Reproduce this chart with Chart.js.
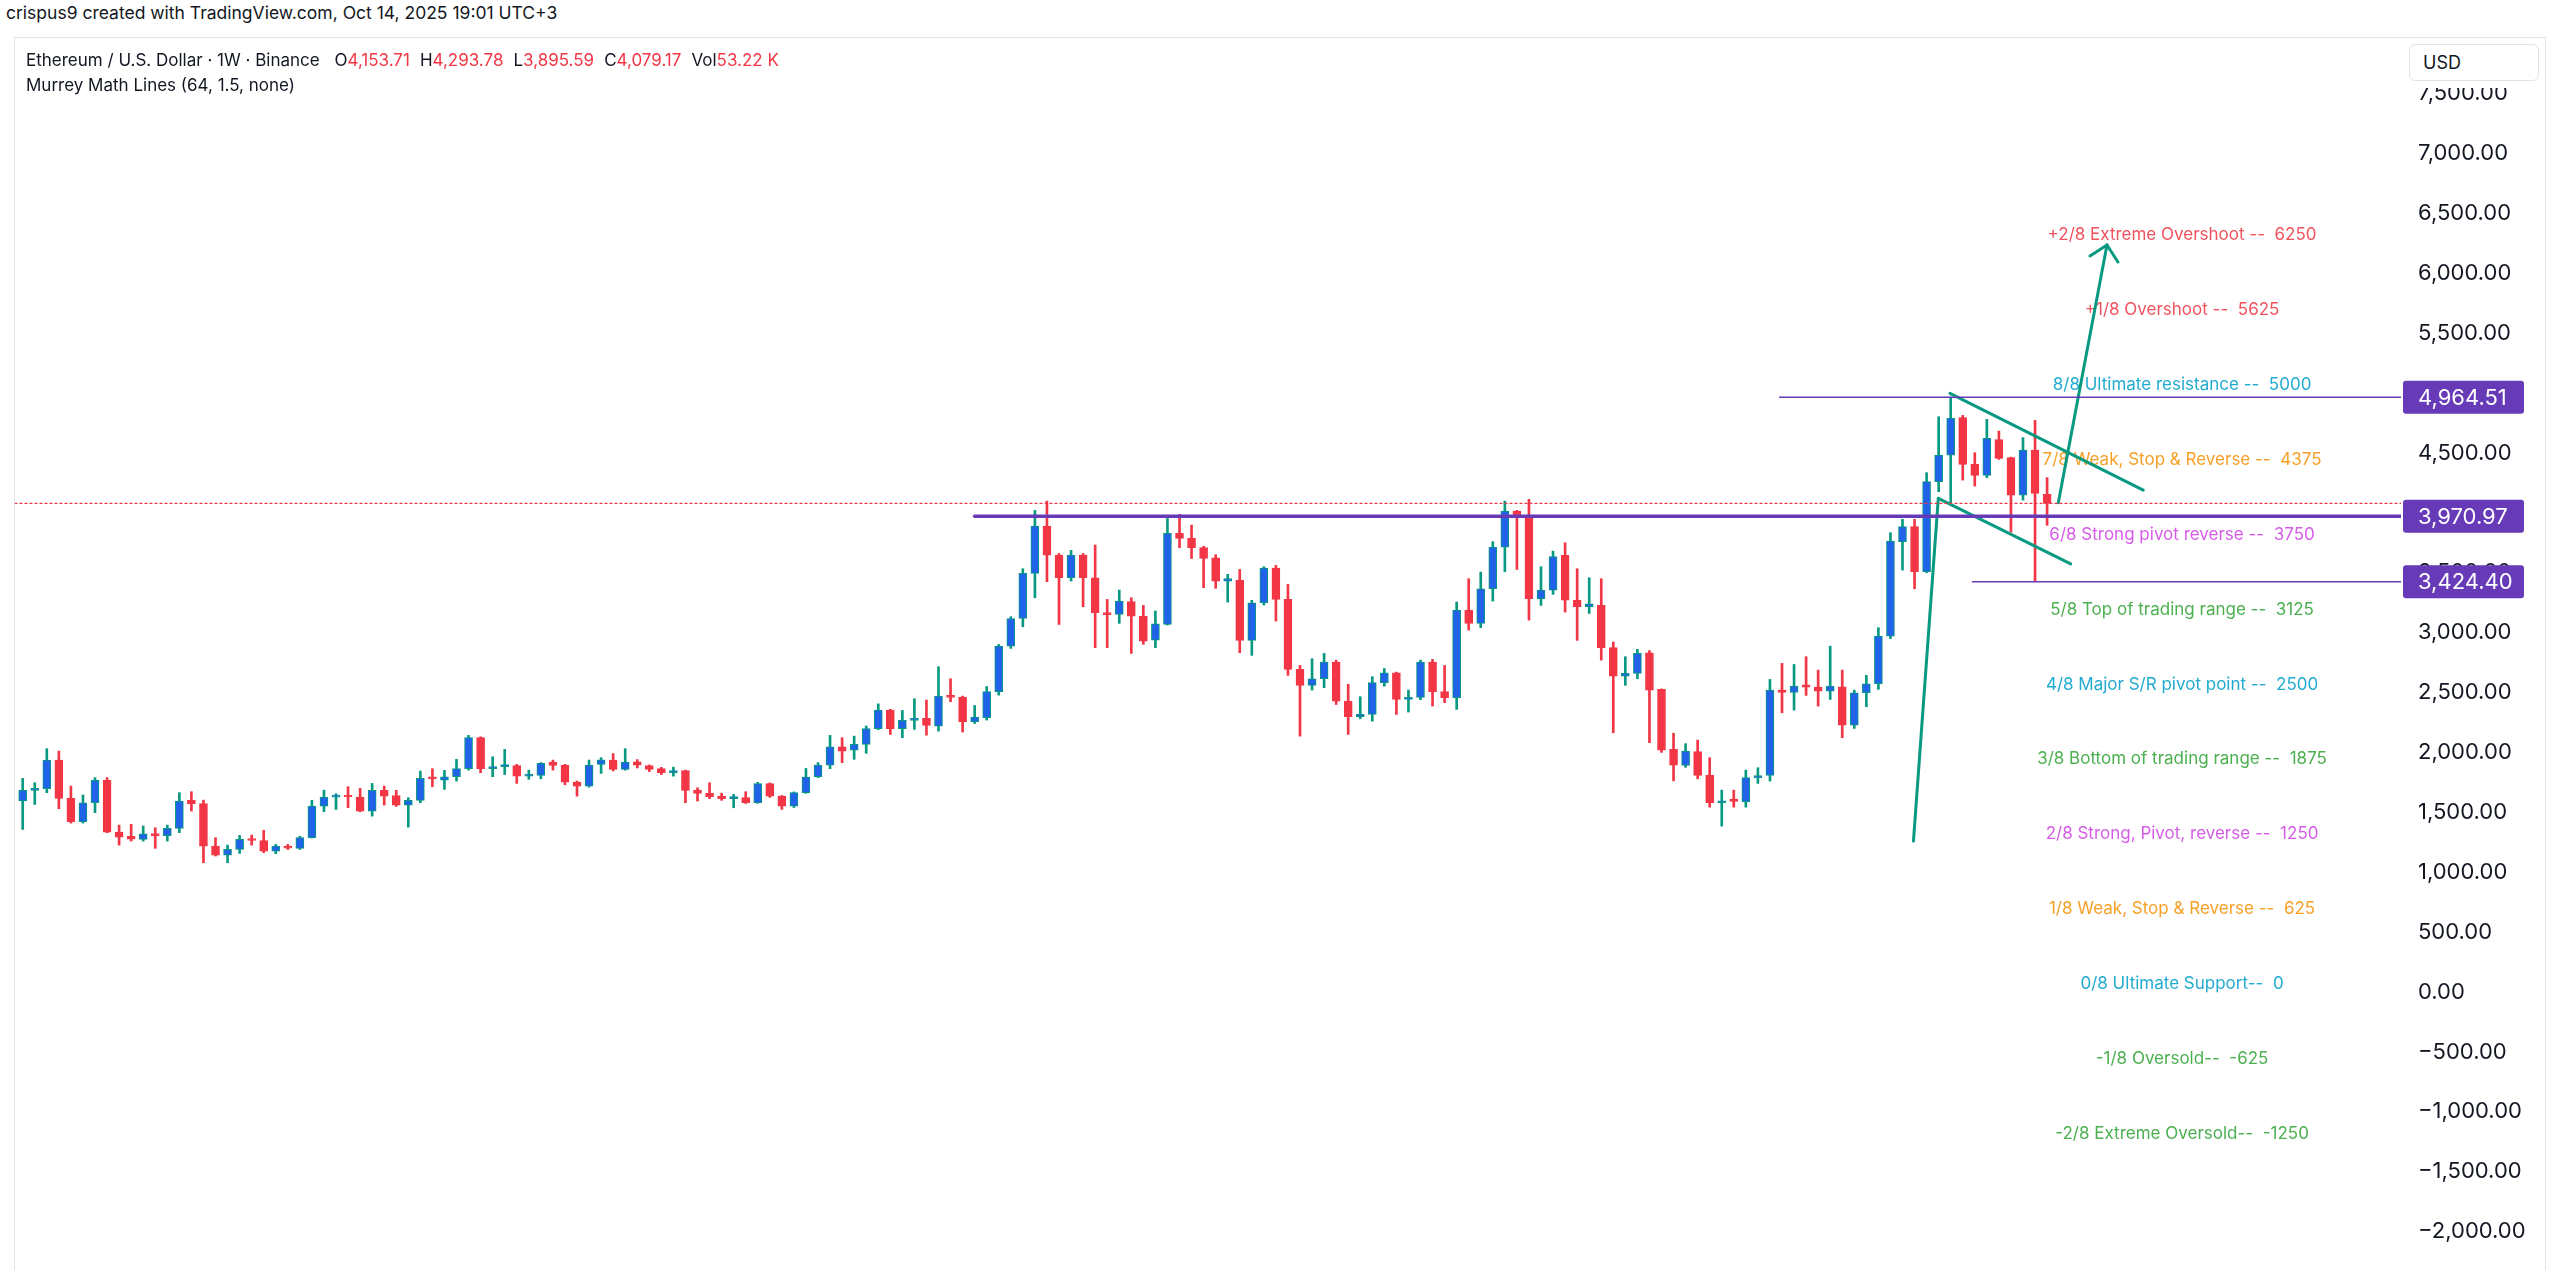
<!DOCTYPE html>
<html>
<head>
<meta charset="utf-8">
<title>Ethereum / U.S. Dollar 1W - Murrey Math Lines</title>
<script src="https://cdn.jsdelivr.net/npm/chart.js@4.4.1/dist/chart.umd.min.js"></script>
<style>
  html, body { margin: 0; padding: 0; background: #fff; }
  body { width: 2560px; height: 1270px; position: relative; overflow: hidden;
         font-family: Inter, 'Noto Sans', sans-serif; color: #131722; }
  #credit { position: absolute; left: 6px; top: 2px; font-size: 17.5px; line-height: 22px; }
  #frame { position: absolute; left: 14px; top: 37px; width: 2530px; height: 1250px;
           border: 1px solid #e0e3eb; }
  #chartBox { position: absolute; left: 15px; top: 38px; width: 2530px; height: 1232px; }
  .legend { position: absolute; left: 26px; font-size: 17px; line-height: 22px; white-space: pre; }
  #legend1 { top: 49px; }
  #legend2 { top: 74px; }
  .val { color: #f23645; }
  .gap { margin-left: 10px; }
  #usdPad { position: absolute; left: 2405px; top: 40px; width: 138px; height: 48px; background: #fff; }
  #usd { position: absolute; left: 2409px; top: 44px; width: 130px; height: 37px; box-sizing: border-box;
         border: 1px solid #e0e3eb; border-radius: 6px; background: #fff; font-size: 18px;
         line-height: 35px; padding-left: 13px; }
</style>
</head>
<body>
<div id="credit">crispus9 created with TradingView.com, Oct 14, 2025 19:01 UTC+3</div>
<div id="frame"></div>
<div id="chartBox"><canvas id="ethChart" width="2530" height="1232"></canvas></div>
<div class="legend" id="legend1">Ethereum / U.S. Dollar · 1W · Binance <span class="gap">O</span><span class="val">4,153.71</span><span class="gap">H</span><span class="val">4,293.78</span><span class="gap">L</span><span class="val">3,895.59</span><span class="gap">C</span><span class="val">4,079.17</span><span class="gap">Vol</span><span class="val">53.22 K</span></div>
<div class="legend" id="legend2">Murrey Math Lines (64, 1.5, none)</div>
<div id="usdPad"></div>
<div id="usd">USD</div>

<script>
// weekly candles, ETHUSD Binance (week start)
const weeks = [
  '2022-07-18','2022-07-25','2022-08-01','2022-08-08','2022-08-15','2022-08-22','2022-08-29','2022-09-05','2022-09-12','2022-09-19','2022-09-26',
  '2022-10-03','2022-10-10','2022-10-17','2022-10-24','2022-10-31','2022-11-07','2022-11-14','2022-11-21','2022-11-28','2022-12-05',
  '2022-12-12','2022-12-19','2022-12-26','2023-01-02','2023-01-09','2023-01-16','2023-01-23','2023-01-30','2023-02-06','2023-02-13',
  '2023-02-20','2023-02-27','2023-03-06','2023-03-13','2023-03-20','2023-03-27','2023-04-03','2023-04-10','2023-04-17','2023-04-24',
  '2023-05-01','2023-05-08','2023-05-15','2023-05-22','2023-05-29','2023-06-05','2023-06-12','2023-06-19','2023-06-26','2023-07-03',
  '2023-07-10','2023-07-17','2023-07-24','2023-07-31','2023-08-07','2023-08-14','2023-08-21','2023-08-28','2023-09-04','2023-09-11',
  '2023-09-18','2023-09-25','2023-10-02','2023-10-09','2023-10-16','2023-10-23','2023-10-30','2023-11-06','2023-11-13','2023-11-20',
  '2023-11-27','2023-12-04','2023-12-11','2023-12-18','2023-12-25','2024-01-01','2024-01-08','2024-01-15','2024-01-22','2024-01-29',
  '2024-02-05','2024-02-12','2024-02-19','2024-02-26','2024-03-04','2024-03-11','2024-03-18','2024-03-25','2024-04-01','2024-04-08',
  '2024-04-15','2024-04-22','2024-04-29','2024-05-06','2024-05-13','2024-05-20','2024-05-27','2024-06-03','2024-06-10','2024-06-17',
  '2024-06-24','2024-07-01','2024-07-08','2024-07-15','2024-07-22','2024-07-29','2024-08-05','2024-08-12','2024-08-19','2024-08-26',
  '2024-09-02','2024-09-09','2024-09-16','2024-09-23','2024-09-30','2024-10-07','2024-10-14','2024-10-21','2024-10-28','2024-11-04',
  '2024-11-11','2024-11-18','2024-11-25','2024-12-02','2024-12-09','2024-12-16','2024-12-23','2024-12-30','2025-01-06','2025-01-13',
  '2025-01-20','2025-01-27','2025-02-03','2025-02-10','2025-02-17','2025-02-24','2025-03-03','2025-03-10','2025-03-17','2025-03-24',
  '2025-03-31','2025-04-07','2025-04-14','2025-04-21','2025-04-28','2025-05-05','2025-05-12','2025-05-19','2025-05-26','2025-06-02',
  '2025-06-09','2025-06-16','2025-06-23','2025-06-30','2025-07-07','2025-07-14','2025-07-21','2025-07-28','2025-08-04','2025-08-11',
  '2025-08-18','2025-08-25','2025-09-01','2025-09-08','2025-09-15','2025-09-22','2025-09-29','2025-10-06','2025-10-13'
]

const opens = [
  1340,
  1595, 1683, 1697, 1935, 1616, 1421, 1580, 1766, 1335, 1299,
  1274, 1322, 1306, 1366, 1599, 1572, 1218, 1142, 1190, 1274,
  1265, 1176, 1218, 1199, 1288, 1551, 1627, 1640, 1628, 1510,
  1683, 1640, 1560, 1599, 1790, 1769, 1797, 1864, 2123, 1864,
  1881, 1890, 1802, 1808, 1919, 1894, 1752, 1719, 1900, 1936,
  1858, 1922, 1891, 1864, 1830, 1848, 1685, 1658, 1635, 1614,
  1622, 1580, 1739, 1635, 1552, 1664, 1797, 1894, 2047, 2019,
  2067, 2198, 2353, 2198, 2267, 2284, 2220, 2470, 2462, 2256,
  2290, 2507, 2887, 3118, 3494, 3889, 3647, 3458, 3647, 3458,
  3166, 3152, 3258, 3138, 2937, 3068, 3828, 3786, 3709, 3625,
  3430, 3438, 2935, 3249, 3538, 3277, 2693, 2560, 2615, 2754,
  2428, 2298, 2317, 2582, 2665, 2442, 2460, 2754, 2507, 2457,
  3188, 3077, 3366, 3714, 4014, 3978, 3283, 3355, 3644, 3271,
  3216, 3227, 2874, 2637, 2660, 2832, 2526, 2025, 1891, 2006,
  1808, 1580, 1610, 1588, 1789, 1808, 2520, 2500, 2565, 2545,
  2512, 2548, 2228, 2498, 2573, 2971, 3759, 3884, 3508, 4260,
  4482, 4794, 4404, 4312, 4612, 4460, 4148, 4523, 4153.71
]

const highs = [
  1660,
  1783, 1747, 2031, 2011, 1719, 1644, 1789, 1790, 1393, 1400,
  1385, 1371, 1393, 1664, 1672, 1602, 1288, 1226, 1307, 1310,
  1349, 1232, 1232, 1300, 1600, 1685, 1655, 1714, 1700, 1741,
  1719, 1683, 1622, 1844, 1864, 1850, 1942, 2142, 2130, 1964,
  2025, 1900, 1852, 1915, 1936, 1900, 1761, 1936, 1956, 1990,
  2031, 1940, 1895, 1875, 1877, 1852, 1705, 1747, 1660, 1649,
  1672, 1750, 1745, 1640, 1670, 1866, 1915, 2142, 2123, 2136,
  2220, 2405, 2360, 2350, 2448, 2437, 2715, 2615, 2470, 2392,
  2550, 2901, 3133, 3533, 4020, 4098, 3660, 3686, 3660, 3731,
  3277, 3355, 3291, 3227, 3180, 3953, 3987, 3897, 3720, 3650,
  3486, 3527, 3270, 3550, 3561, 3402, 2726, 2782, 2826, 2770,
  2568, 2465, 2632, 2700, 2670, 2520, 2770, 2776, 2726, 3255,
  3450, 3505, 3759, 4098, 4020, 4112, 3550, 3680, 3750, 3533,
  3458, 3450, 2921, 2799, 2860, 2850, 2530, 2160, 2073, 2103,
  1956, 1685, 1685, 1852, 1872, 2609, 2743, 2734, 2799, 2687,
  2887, 2687, 2520, 2643, 3041, 3834, 3945, 3945, 4335, 4802,
  4964.51, 4813, 4502, 4780, 4682, 4465, 4627, 4771, 4293.78
]

const lows = [
  1330,
  1357, 1566, 1664, 1530, 1410, 1410, 1497, 1330, 1226, 1260,
  1260, 1199, 1260, 1330, 1510, 1079, 1135, 1079, 1157, 1226,
  1163, 1154, 1190, 1190, 1285, 1505, 1524, 1538, 1505, 1468,
  1560, 1550, 1376, 1580, 1714, 1691, 1761, 1852, 1830, 1797,
  1816, 1741, 1775, 1780, 1852, 1730, 1635, 1710, 1825, 1845,
  1852, 1870, 1840, 1815, 1802, 1580, 1594, 1614, 1600, 1538,
  1574, 1575, 1625, 1524, 1540, 1658, 1790, 1864, 1914, 1942,
  1992, 2190, 2150, 2123, 2192, 2144, 2178, 2423, 2170, 2242,
  2270, 2478, 2868, 3049, 3291, 3425, 3068, 3431, 3216, 2874,
  2874, 3077, 2826, 2902, 2874, 3063, 3709, 3619, 3375, 3370,
  3255, 2832, 2810, 3230, 3096, 2643, 2136, 2520, 2540, 2400,
  2150, 2281, 2261, 2553, 2317, 2337, 2440, 2387, 2415, 2359,
  3021, 3041, 3263, 3508, 3527, 3104, 3227, 3320, 3171, 2935,
  3160, 2770, 2164, 2560, 2615, 2081, 2000, 1763, 1875, 1780,
  1543, 1385, 1543, 1543, 1741, 1761, 2331, 2353, 2476, 2386,
  2442, 2123, 2200, 2381, 2526, 2950, 3522, 3366, 3500, 4176,
  4084, 4273, 4223, 4293, 4446, 3839, 4106, 3424.40, 3895.59
]

const closes = [
  1595,
  1683, 1697, 1935, 1616, 1421, 1580, 1766, 1335, 1293, 1276,
  1321, 1306, 1366, 1594, 1572, 1218, 1142, 1190, 1274, 1265,
  1176, 1218, 1200, 1288, 1551, 1627, 1640, 1628, 1510, 1683,
  1635, 1560, 1599, 1783, 1780, 1797, 1864, 2123, 1864, 1881,
  1890, 1802, 1816, 1908, 1891, 1752, 1719, 1894, 1939, 1858,
  1919, 1894, 1858, 1830, 1848, 1683, 1658, 1630, 1614, 1632,
  1580, 1739, 1635, 1552, 1664, 1794, 1894, 2047, 2011, 2067,
  2198, 2353, 2198, 2267, 2280, 2225, 2470, 2460, 2256, 2295,
  2507, 2887, 3118, 3494, 3889, 3647, 3458, 3647, 3458, 3166,
  3150, 3263, 3138, 2929, 3074, 3828, 3786, 3709, 3619, 3430,
  3450, 2935, 3249, 3538, 3277, 2693, 2560, 2615, 2754, 2428,
  2298, 2317, 2582, 2665, 2442, 2460, 2754, 2507, 2457, 3188,
  3077, 3366, 3714, 4014, 3959, 3283, 3355, 3634, 3271, 3216,
  3240, 2874, 2637, 2660, 2826, 2520, 2019, 1893, 2011, 1808,
  1580, 1594, 1590, 1789, 1805, 2520, 2500, 2553, 2545, 2512,
  2553, 2228, 2498, 2573, 2971, 3764, 3884, 3508, 4260, 4482,
  4788, 4404, 4312, 4621, 4454, 4148, 4523, 4162, 4079.17
]

// price axis labels
const yTicks = [-2000, -1500, -1000, -500, 0, 500, 1000, 1500, 2000, 2500, 3000, 3500, 4000, 4500, 5000, 5500, 6000, 6500, 7000, 7500]

// Murrey Math levels and their texts
const murreyLevels = [6250, 5625, 5000, 4375, 3750, 3125, 2500, 1875, 1250, 625, 0, -625, -1250]
const murreyTexts = [
  '+2/8 Extreme Overshoot --  6250',
  '+1/8 Overshoot --  5625',
  '8/8 Ultimate resistance --  5000',
  '7/8 Weak, Stop & Reverse --  4375',
  '6/8 Strong pivot reverse --  3750',
  '5/8 Top of trading range --  3125',
  '4/8 Major S/R pivot point --  2500',
  '3/8 Bottom of trading range --  1875',
  '2/8 Strong, Pivot, reverse --  1250',
  '1/8 Weak, Stop & Reverse --  625',
  '0/8 Ultimate Support--  0',
  '-1/8 Oversold--  -625',
  '-2/8 Extreme Oversold--  -1250'
]

// price levels marked with a tag on the axis, and the week index where each line starts
const tagPrices = [4964.51, 3970.97, 3424.40]
const tagStarts = [146.8, 80.0, 162.8]
const lastClose = 4079.17

// hand drawn flag and arrow, anchored as [week index, price]
const flagUpper = [[160.94, 4997], [176.98, 4190]]
const flagLower = [[159.97, 4121], [170.96, 3573]]
const flagPole  = [[157.91, 1260], [159.97, 4121]]
const arrowLine = [[169.93, 4084], [173.97, 6235]]
const arrowHead = [[172.56, 6144], [173.97, 6235], [174.88, 6093]]

// ----- look -----
const X_MIN = 0.36
const X_MAX = 198.37
const Y_MIN = -2320.5
const Y_MAX = 7963.3
const MURREY_X = 180.2
const UP_BODY = '#2163e8'
const UP_WICK = '#089981'
const DOWN = '#f23645'
const PURPLE = '#673ab7'
const TEAL = '#089981'
const murreyColors = [
  '#f0525e', '#f0525e', '#22abd0', '#f7a028', '#d65ce8', '#4caf50', '#22abd0',
  '#4caf50', '#d65ce8', '#f7a028', '#22abd0', '#4caf50', '#4caf50'
]

const fmtPrice = (v) => {
  const s = Math.abs(v).toLocaleString('en-US', { minimumFractionDigits: 2, maximumFractionDigits: 2 })
  return (v < 0 ? '\u2212' : '') + s
}

const isUp = opens.map((o, k) => closes[k] >= o)
const toPoints = (pairs) => pairs.map(p => ({ x: p[0], y: p[1] }))

const lineSet = (points, color, width, dash) => ({
  type: 'line',
  data: points,
  borderColor: color,
  borderWidth: width,
  borderDash: dash || [],
  borderCapStyle: 'round',
  pointRadius: 0,
  pointHoverRadius: 0,
  fill: false,
  tension: 0,
  order: 0
})

// Murrey texts go under the drawings
const murreyLabelPlugin = {
  id: 'murreyLabels',
  beforeDatasetsDraw(chart) {
    const { ctx, scales: { x, y } } = chart
    ctx.save()
    ctx.font = '17px Inter'
    ctx.textAlign = 'center'
    ctx.textBaseline = 'alphabetic'
    murreyLevels.forEach((level, n) => {
      ctx.fillStyle = murreyColors[n]
      ctx.fillText(murreyTexts[n], x.getPixelForValue(MURREY_X), y.getPixelForValue(level) - 3)
    })
    ctx.restore()
  }
}

// purple price tags on the right axis
const priceTagPlugin = {
  id: 'priceTags',
  afterDraw(chart) {
    const { ctx, chartArea, scales: { y } } = chart
    ctx.save()
    ctx.font = '22px Inter'
    ctx.textAlign = 'left'
    ctx.textBaseline = 'middle'
    tagPrices.forEach(p => {
      const py = y.getPixelForValue(p)
      ctx.fillStyle = PURPLE
      ctx.beginPath()
      ctx.roundRect(chartArea.right + 2, py - 16.5, 121, 33, 3)
      ctx.fill()
      ctx.fillStyle = '#ffffff'
      ctx.fillText(fmtPrice(p), chartArea.right + 17, py + 1)
    })
    ctx.restore()
  }
}

const candleWicks = {
  type: 'bar',
  label: 'wick',
  data: weeks.map((w, k) => ({ x: k, y: [lows[k], highs[k]] })),
  backgroundColor: isUp.map(u => u ? UP_WICK : DOWN),
  barThickness: 2,
  grouped: false,
  order: 2
}

const candleBodies = {
  type: 'bar',
  label: 'ETHUSD',
  data: weeks.map((w, k) => ({ x: k, y: [opens[k], closes[k]] })),
  backgroundColor: isUp.map(u => u ? UP_BODY : DOWN),
  borderColor: isUp.map(u => u ? UP_WICK : DOWN),
  borderWidth: 1,
  borderSkipped: false,
  barThickness: 8,
  minBarLength: 2,
  grouped: false,
  order: 1
}

const drawings = [
  lineSet([{ x: X_MIN, y: lastClose }, { x: X_MAX, y: lastClose }], DOWN, 1.3, [2, 3]),
  lineSet([{ x: tagStarts[0], y: tagPrices[0] }, { x: X_MAX, y: tagPrices[0] }], PURPLE, 1.5),
  lineSet([{ x: tagStarts[1], y: tagPrices[1] }, { x: X_MAX, y: tagPrices[1] }], PURPLE, 3.5),
  lineSet([{ x: tagStarts[2], y: tagPrices[2] }, { x: X_MAX, y: tagPrices[2] }], PURPLE, 1.5),
  lineSet(toPoints(flagUpper), TEAL, 3),
  lineSet(toPoints(flagLower), TEAL, 3),
  lineSet(toPoints(flagPole), TEAL, 3),
  lineSet(toPoints(arrowLine), TEAL, 3),
  lineSet(toPoints(arrowHead), TEAL, 3)
]

const ctx = document.getElementById('ethChart').getContext('2d')

new Chart(ctx, {
  type: 'bar',
  data: { datasets: [candleWicks, candleBodies, ...drawings] },
  options: {
    responsive: false,
    animation: false,
    layout: { padding: 0 },
    plugins: {
      legend: { display: false },
      tooltip: { enabled: false }
    },
    scales: {
      x: {
        type: 'linear',
        min: X_MIN,
        max: X_MAX,
        offset: false,
        display: false
      },
      y: {
        position: 'right',
        min: Y_MIN,
        max: Y_MAX,
        grid: { display: false, drawTicks: false },
        border: { display: false },
        afterBuildTicks: (scale) => { scale.ticks = yTicks.map(v => ({ value: v })) },
        afterFit: (scale) => {
          // plot runs edge to edge like TradingView: no extra room for the end labels
          scale.width = 144
          scale.paddingTop = 0
          scale.paddingBottom = 0
        },
        ticks: {
          autoSkip: false,
          padding: 17,
          color: '#131722',
          font: { family: 'Inter', size: 22 },
          callback: (value) => fmtPrice(value)
        }
      }
    }
  },
  plugins: [murreyLabelPlugin, priceTagPlugin]
})
</script>
</body>
</html>
